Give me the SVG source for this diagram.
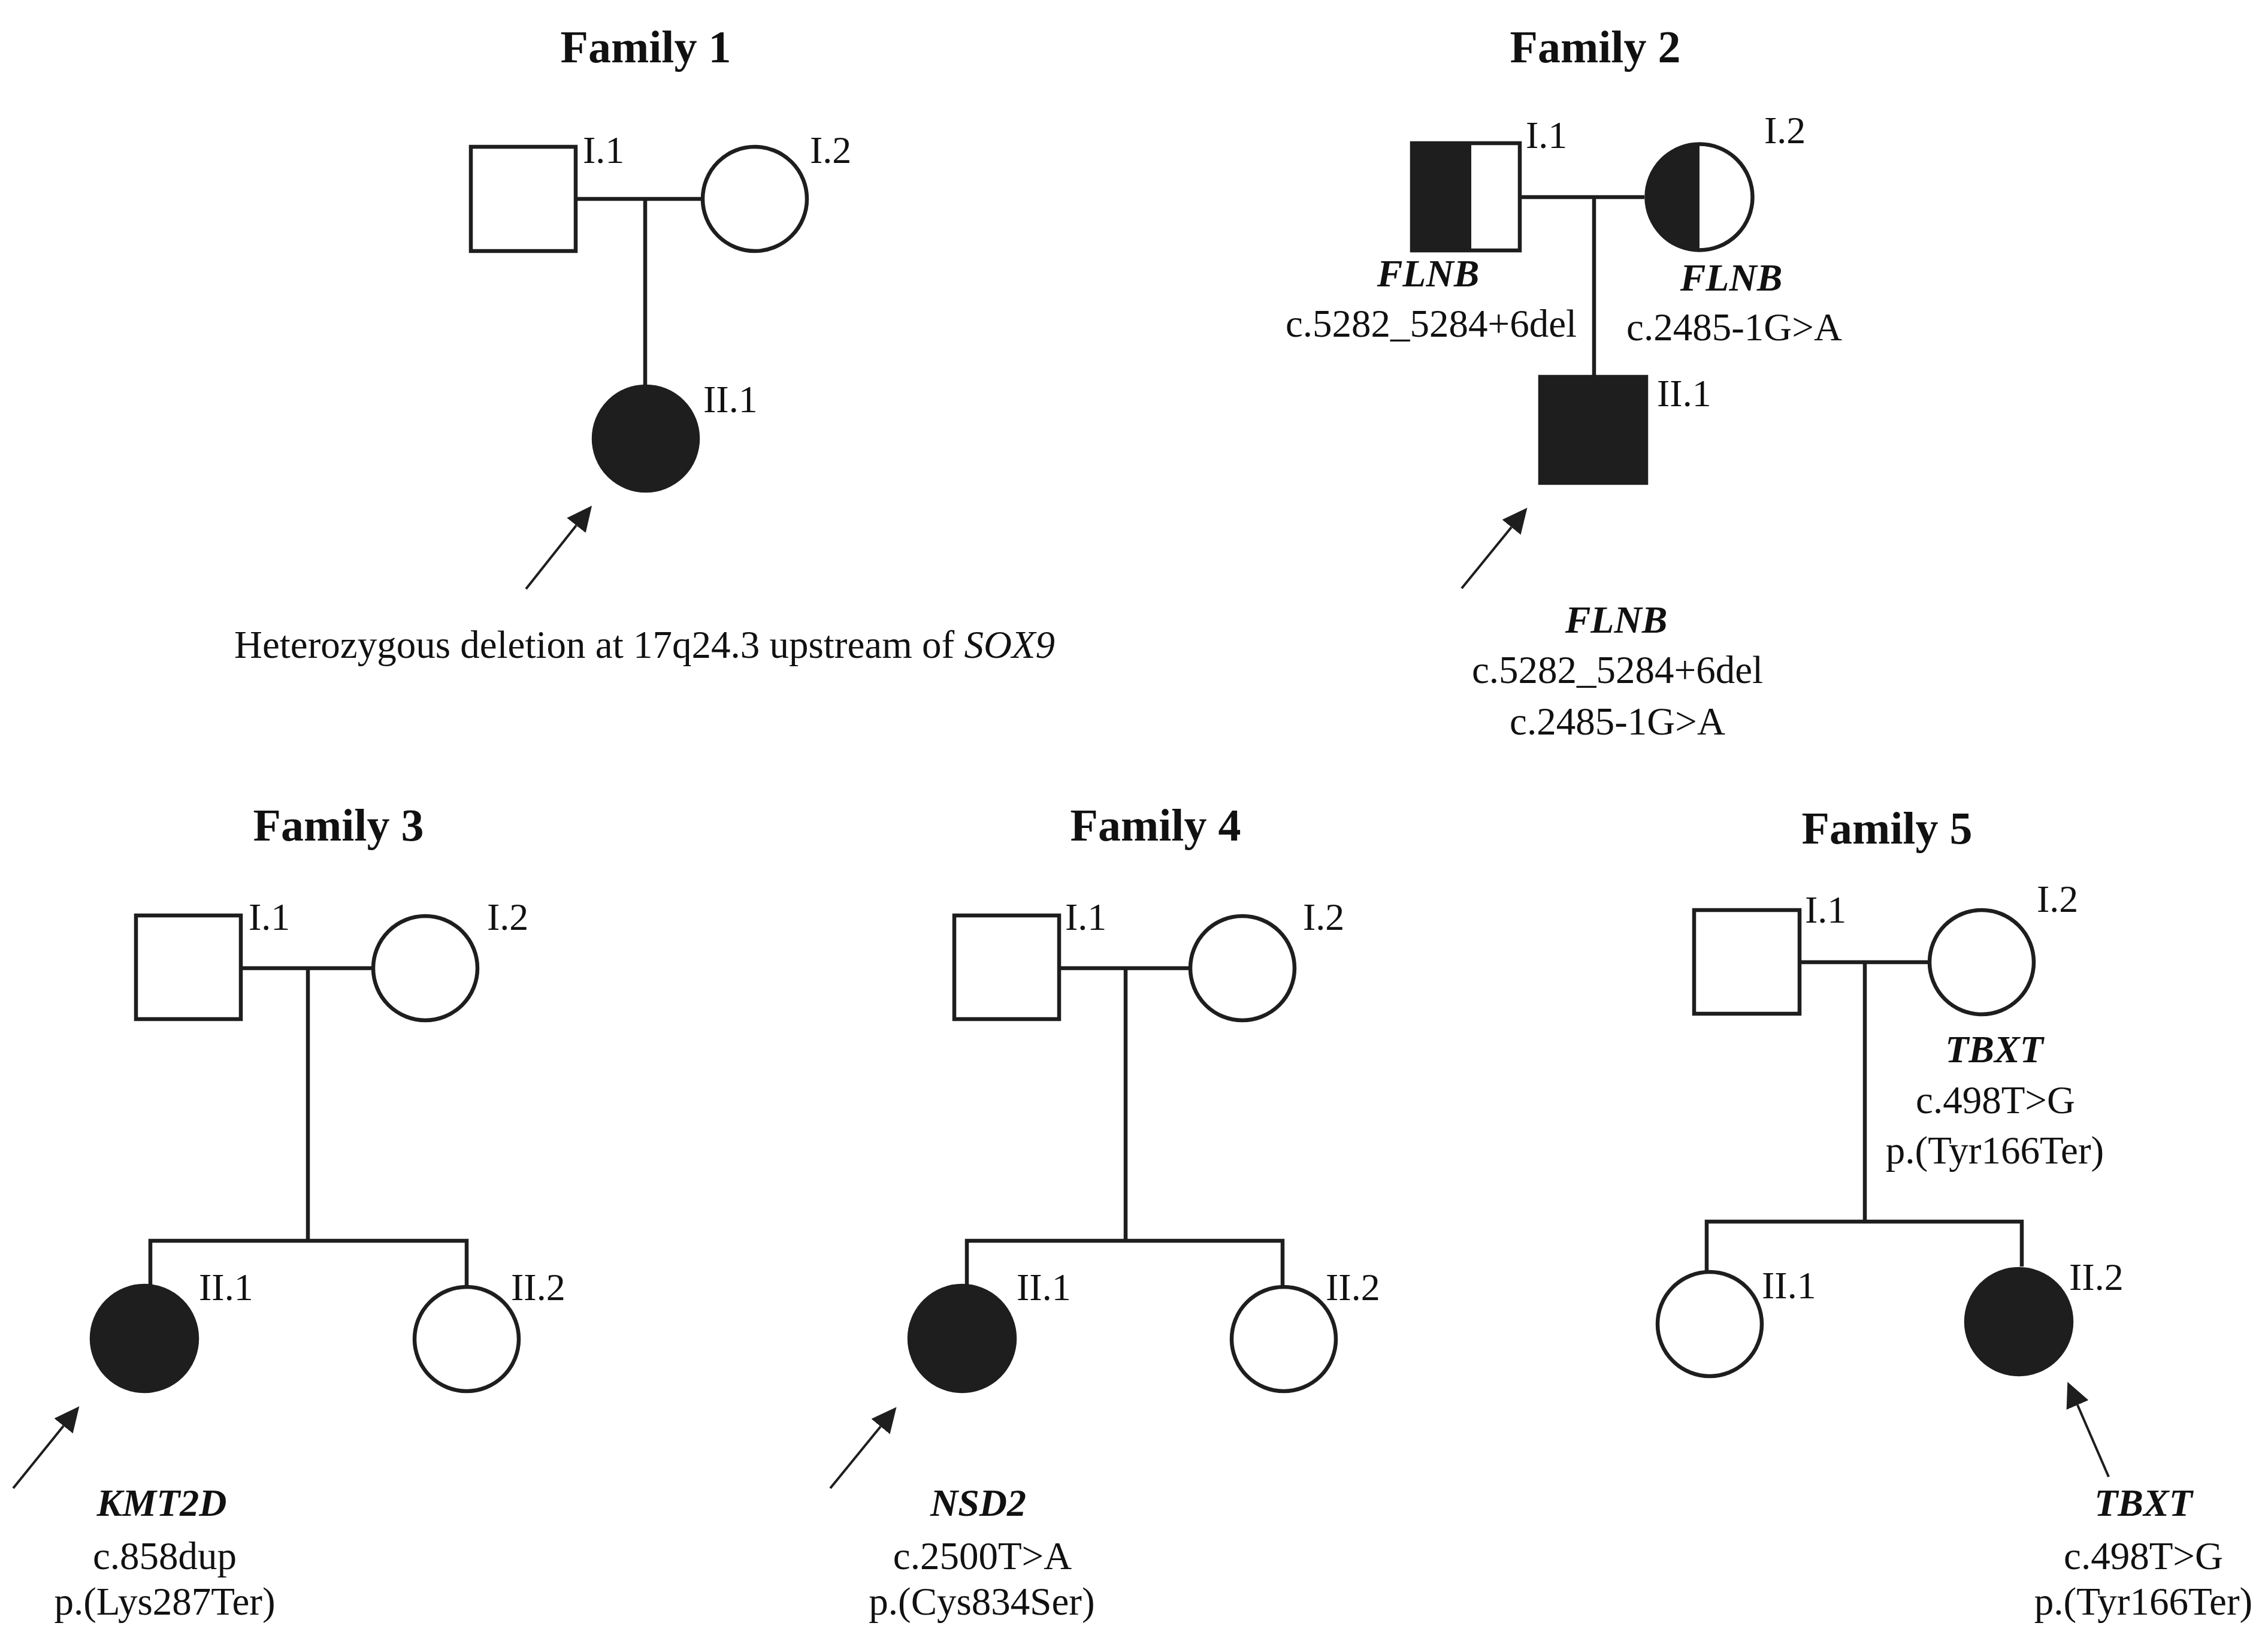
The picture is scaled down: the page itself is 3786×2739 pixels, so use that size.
<svg xmlns="http://www.w3.org/2000/svg" width="3786" height="2739" viewBox="0 0 3786 2739">
<style>
.bg{fill:#fff}
.sh{fill:#fff;stroke:#1e1e1e;stroke-width:6.5}
.af{fill:#1e1e1e;stroke:#1e1e1e;stroke-width:6.5}
.ol{fill:none;stroke:#1e1e1e;stroke-width:6.5}
.blk{fill:#1e1e1e}
.ln{fill:none;stroke:#1e1e1e;stroke-width:6.5;stroke-linejoin:miter;stroke-linecap:butt}
.ar{fill:none;stroke:#1e1e1e;stroke-width:4;marker-end:url(#ah)}
text{font-family:"Liberation Serif","Times New Roman",serif;fill:#111}
.t{font-size:76px;font-weight:bold;text-anchor:middle}
.lb{font-size:64px}
.m{font-size:65px;text-anchor:middle}
.g{font-size:64px;font-weight:bold;font-style:italic;text-anchor:middle}
</style>
<defs>
<marker id="ah" viewBox="0 0 42 40" refX="0" refY="20" markerWidth="42" markerHeight="40" markerUnits="userSpaceOnUse" orient="auto">
<path d="M0,0 L42,20 L0,40 Z" fill="#1e1e1e"/>
</marker>
</defs>
<rect class="bg" x="0" y="0" width="3786" height="2739"/>

<g id="connectors">
<!-- Family 1 -->
<line class="ln" x1="964" y1="332" x2="1170" y2="332"/>
<line class="ln" x1="1077" y1="332" x2="1077" y2="642"/>
<!-- Family 2 -->
<line class="ln" x1="2540" y1="329" x2="2745" y2="329"/>
<line class="ln" x1="2661" y1="329" x2="2661" y2="627"/>
<!-- Family 3 -->
<line class="ln" x1="405" y1="1616" x2="623" y2="1616"/>
<line class="ln" x1="514" y1="1616" x2="514" y2="2071"/>
<path class="ln" d="M251,2144 V2071 H779 V2146"/>
<!-- Family 4 -->
<line class="ln" x1="1771" y1="1616" x2="1987" y2="1616"/>
<line class="ln" x1="1879" y1="1616" x2="1879" y2="2071"/>
<path class="ln" d="M1614,2144 V2071 H2141 V2146"/>
<!-- Family 5 -->
<line class="ln" x1="3007" y1="1606" x2="3221" y2="1606"/>
<line class="ln" x1="3113" y1="1606" x2="3113" y2="2039"/>
<path class="ln" d="M2849,2121 V2039 H3375 V2114"/>
<!-- proband arrows -->
<line class="ar" x1="878" y1="983" x2="962" y2="877"/>
<line class="ar" x1="2440" y1="982" x2="2523" y2="880"/>
<line class="ar" x1="22" y1="2484" x2="106" y2="2380"/>
<line class="ar" x1="1386" y1="2484" x2="1470" y2="2381"/>
<line class="ar" x1="3520" y1="2465" x2="3468" y2="2345"/>
</g>

<g id="family1">
<text class="t" x="1078" y="104">Family 1</text>
<g id="f1-I1"><rect class="sh" x="786" y="245" width="175" height="174"/><text class="lb" x="973" y="272">I.1</text></g>
<g id="f1-I2"><circle class="sh" cx="1260" cy="332" r="87"/><text class="lb" x="1352" y="272">I.2</text></g>
<g id="f1-II1"><circle class="af" cx="1078" cy="732" r="87"/><text class="lb" x="1174" y="688">II.1</text></g>
<text class="m" x="1076" y="1098">Heterozygous deletion at 17q24.3 upstream of <tspan font-style="italic">SOX9</tspan></text>
</g>

<g id="family2">
<text class="t" x="2663" y="104">Family 2</text>
<g id="f2-I1">
<rect x="2357" y="239" width="180" height="179" fill="#fff"/>
<rect class="blk" x="2354" y="236" width="102" height="185"/>
<rect class="ol" x="2357" y="239" width="180" height="179"/>
<text class="lb" x="2547" y="247">I.1</text>
<text class="g" x="2384" y="478">FLNB</text>
<text class="m" x="2389" y="562">c.5282_5284+6del</text>
</g>
<g id="f2-I2">
<circle cx="2837" cy="329" r="88.5" fill="#fff"/>
<path class="blk" d="M2837,240.5 A88.5,88.5 0 0 0 2837,417.5 Z"/>
<circle class="ol" cx="2837" cy="329" r="88.5"/>
<text class="lb" x="2945" y="239">I.2</text>
<text class="g" x="2890" y="485">FLNB</text>
<text class="m" x="2895" y="568">c.2485-1G&gt;A</text>
</g>
<g id="f2-II1">
<rect class="af" x="2571" y="629" width="177" height="177"/>
<text class="lb" x="2766" y="678">II.1</text>
<text class="g" x="2698" y="1056">FLNB</text>
<text class="m" x="2700" y="1140">c.5282_5284+6del</text>
<text class="m" x="2700" y="1226">c.2485-1G&gt;A</text>
</g>
</g>

<g id="family3">
<text class="t" x="565" y="1403">Family 3</text>
<g id="f3-I1"><rect class="sh" x="227" y="1528" width="175" height="173"/><text class="lb" x="415" y="1552">I.1</text></g>
<g id="f3-I2"><circle class="sh" cx="710" cy="1616" r="87"/><text class="lb" x="813" y="1552">I.2</text></g>
<g id="f3-II1">
<circle class="af" cx="241" cy="2234" r="88"/><text class="lb" x="332" y="2170">II.1</text>
<text class="g" x="270" y="2530">KMT2D</text>
<text class="m" x="275" y="2619">c.858dup</text>
<text class="m" x="275" y="2695">p.(Lys287Ter)</text>
</g>
<g id="f3-II2"><circle class="sh" cx="779" cy="2235" r="87"/><text class="lb" x="853" y="2170">II.2</text></g>
</g>

<g id="family4">
<text class="t" x="1929" y="1403">Family 4</text>
<g id="f4-I1"><rect class="sh" x="1593" y="1528" width="175" height="173"/><text class="lb" x="1778" y="1552">I.1</text></g>
<g id="f4-I2"><circle class="sh" cx="2074" cy="1616" r="87"/><text class="lb" x="2175" y="1552">I.2</text></g>
<g id="f4-II1">
<circle class="af" cx="1606" cy="2234" r="88"/><text class="lb" x="1697" y="2170">II.1</text>
<text class="g" x="1633" y="2530">NSD2</text>
<text class="m" x="1640" y="2619">c.2500T&gt;A</text>
<text class="m" x="1639" y="2695">p.(Cys834Ser)</text>
</g>
<g id="f4-II2"><circle class="sh" cx="2143" cy="2235" r="87"/><text class="lb" x="2213" y="2170">II.2</text></g>
</g>

<g id="family5">
<text class="t" x="3150" y="1408">Family 5</text>
<g id="f5-I1"><rect class="sh" x="2828" y="1519" width="176" height="173"/><text class="lb" x="3013" y="1540">I.1</text></g>
<g id="f5-I2">
<circle class="sh" cx="3308" cy="1606" r="87"/><text class="lb" x="3400" y="1522">I.2</text>
<text class="g" x="3329" y="1773">TBXT</text>
<text class="m" x="3331" y="1858">c.498T&gt;G</text>
<text class="m" x="3330" y="1942">p.(Tyr166Ter)</text>
</g>
<g id="f5-II1"><circle class="sh" cx="2854" cy="2210" r="87"/><text class="lb" x="2941" y="2167">II.1</text></g>
<g id="f5-II2">
<circle class="af" cx="3370" cy="2206" r="88"/><text class="lb" x="3454" y="2153">II.2</text>
<text class="g" x="3578" y="2530">TBXT</text>
<text class="m" x="3578" y="2619">c.498T&gt;G</text>
<text class="m" x="3578" y="2695">p.(Tyr166Ter)</text>
</g>
</g>
</svg>
